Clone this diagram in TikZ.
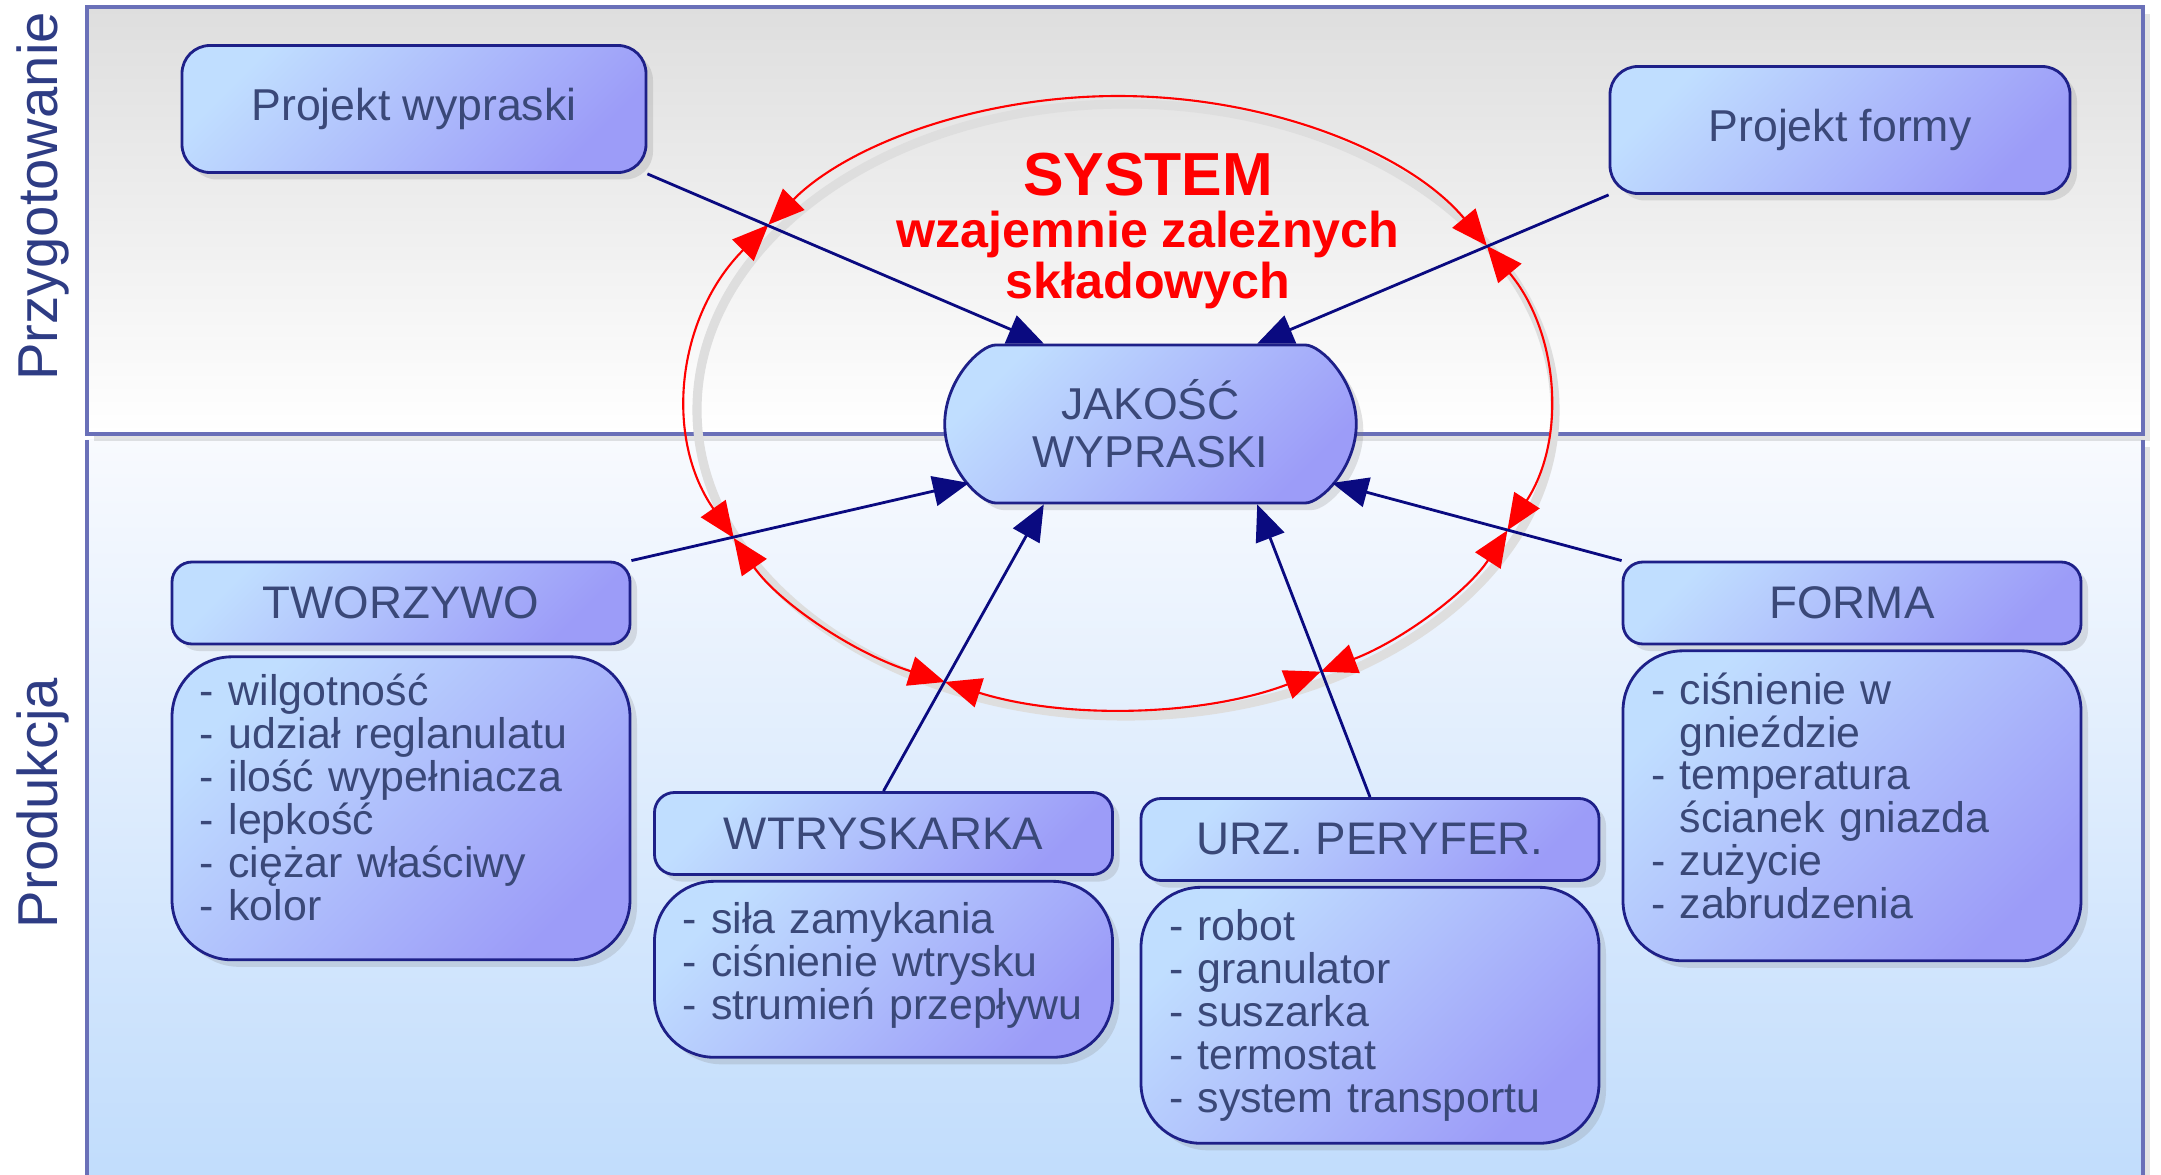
\documentclass[tikz,border=0pt]{standalone}
\usepackage{fontspec}
\setmainfont{Liberation Sans}
\usepackage{tikz}
\usetikzlibrary{arrows.meta}
\usetikzlibrary{shapes.misc}
\usetikzlibrary{shadows}
\usetikzlibrary{positioning,calc}
\usepackage{xcolor}

\definecolor{framecol}{HTML}{6A70B8}
\definecolor{panelgray}{HTML}{DEDEDE}
\definecolor{panelpale}{HTML}{F8FAFE}
\definecolor{panelblue}{HTML}{C0DCFC}
\definecolor{boxlight}{HTML}{C0DEFF}
\definecolor{boxdark}{HTML}{9C9CF8}
\definecolor{boxline}{HTML}{1E2088}
\definecolor{boxtext}{HTML}{3A4878}
\definecolor{sidetext}{HTML}{2E3C84}
\definecolor{linkblue}{HTML}{0A0A80}
\definecolor{sysred}{HTML}{FF0000}

\begin{document}
\begin{tikzpicture}[
    frameline/.style={draw=framecol, line width=1.2pt},
    softshadow/.style={drop shadow={shadow xshift=0.07cm, shadow yshift=-0.07cm, opacity=0.22}},
    box/.style={shape=rectangle,
      rounded corners=0.28cm,
      draw=boxline,
      line width=0.8pt,
      top color=boxlight,
      bottom color=boxdark,
      shading angle=45,
      softshadow,
      text=boxtext,
      font=\fontsize{12.7}{13.7}\selectfont},
    hdr/.style={box,
      rounded corners=0.2cm,
      minimum width=4.58cm,
      minimum height=0.82cm,
      font=\fontsize{13}{13}\selectfont},
    lst/.style={box,
      rounded corners=0.6cm,
      minimum width=4.58cm,
      inner xsep=0.28cm,
      text width=4.02cm,
      align=left,
      font=\fontsize{12.2}{12.2}\selectfont},
    link/.style={draw=linkblue, line width=0.8pt, -{Triangle[length=0.36cm,width=0.3cm]}},
    sysarc/.style={draw=sysred, line width=0.6pt,
      {Triangle[length=0.36cm,width=0.3cm]}-{Triangle[length=0.36cm,width=0.3cm]}},
    side/.style={rotate=90, anchor=base, text=sidetext, font=\fontsize{16}{16}\selectfont}
  ]
    \useasboundingbox (0,0) rectangle (21.61,-11.75);

    % panels
    \path[top color=panelpale, bottom color=panelblue, softshadow]
      (0.87,-4.40) rectangle (21.43,-11.9);
    \draw[frameline] (0.87,-11.9) -- (0.87,-4.40) (21.43,-4.40) -- (21.43,-11.9);
    \path[frameline, top color=panelgray, bottom color=white, softshadow]
      (0.87,-0.07) rectangle (21.43,-4.34);

    \node[side] (prep) at (0.58,-1.965) {Przygotowanie};
    \node[side] (prod) at (0.58,-8.03) {Produkcja};

    % red system ring
    \coordinate (sysc) at (11.18,-4.02);
    \draw[black!13, line width=2.6pt] ($(sysc)+(0.08,-0.08)$) ellipse[x radius=4.29, y radius=3.06];
    \draw[sysarc] ($(sysc)+(30.7:4.29 and 3.06)$)
      arc[start angle=30.7, end angle=144.6, x radius=4.29, y radius=3.06];
    \draw[sysarc] ($(sysc)+(144.6:4.29 and 3.06)$)
      arc[start angle=144.6, end angle=206.4, x radius=4.29, y radius=3.06];
    \draw[sysarc] ($(sysc)+(206.4:4.29 and 3.06)$)
      arc[start angle=206.4, end angle=246.2, x radius=4.29, y radius=3.06];
    \draw[sysarc] ($(sysc)+(246.2:4.29 and 3.06)$)
      arc[start angle=246.2, end angle=298.2, x radius=4.29, y radius=3.06];
    \draw[sysarc] ($(sysc)+(298.2:4.29 and 3.06)$)
      arc[start angle=298.2, end angle=335.2, x radius=4.29, y radius=3.06];
    \draw[sysarc] ($(sysc)+(335.2:4.29 and 3.06)$)
      arc[start angle=335.2, end angle=390.7, x radius=4.29, y radius=3.06];

    \node[text=sysred, font=\fontsize{17.3}{17.3}\selectfont\bfseries] (systitle) at (11.48,-1.75) {SYSTEM};
    \node[text=sysred, align=center, font=\fontsize{14.3}{14.6}\selectfont\bfseries] (syssub) at (11.48,-2.6)
      {wzajemnie zależnych\\składowych};

    % preparation
    \node[box, minimum width=4.64cm, minimum height=1.27cm] (pw) at (4.14,-1.09) {Projekt wypraski};
    \node[box, minimum width=4.60cm, minimum height=1.27cm] (pf) at (18.40,-1.30) {Projekt formy};

    % quality
    \node[box, shape=rounded rectangle, align=center,
      minimum width=4.35cm, minimum height=1.58cm] (jak) at (11.505,-4.24) {JAKOŚĆ\\WYPRASKI};

    % production
    \node[hdr] (tw) at (4.01,-6.03) {TWORZYWO};
    \node[lst, minimum height=3.03cm, below=0.1cm of tw] (twl)
      {- wilgotność\\- udział reglanulatu\\- ilość wypełniacza\\- lepkość\\- ciężar właściwy\\- kolor\par\vspace{0.22cm}};

    \node[hdr] (wt) at (8.835,-8.335) {WTRYSKARKA};
    \node[lst, minimum height=1.76cm, below=0.04cm of wt] (wtl)
      {- siła zamykania\\- ciśnienie wtrysku\\- strumień przepływu\par\vspace{0.08cm}};

    \node[hdr] (urz) at (13.70,-8.395) {URZ. PERYFER.};
    \node[lst, minimum height=2.56cm, below=0.04cm of urz] (urzl)
      {- robot\\- granulator\\- suszarka\\- termostat\\- system transportu};

    \node[hdr] (fo) at (18.52,-6.03) {FORMA};
    \node[lst, minimum height=3.10cm, below=0.04cm of fo] (fol)
      {- ciśnienie w\\\phantom{- }gnieździe\\- temperatura\\\phantom{- }ścianek gniazda\\- zużycie\\- zabrudzenia\par\vspace{0.2cm}};

    % links
    \draw[link] (pw.south east) -- (jak.143);
    \draw[link] (pf.south west) -- (jak.37);
    \draw[link] (tw.north east) -- (jak.198);
    \draw[link] (fo.north west) -- (jak.342);
    \draw[link] (wt.north) -- (jak.217);
    \draw[link] (urz.north) -- (jak.323);
  \end{tikzpicture}
\end{document}
